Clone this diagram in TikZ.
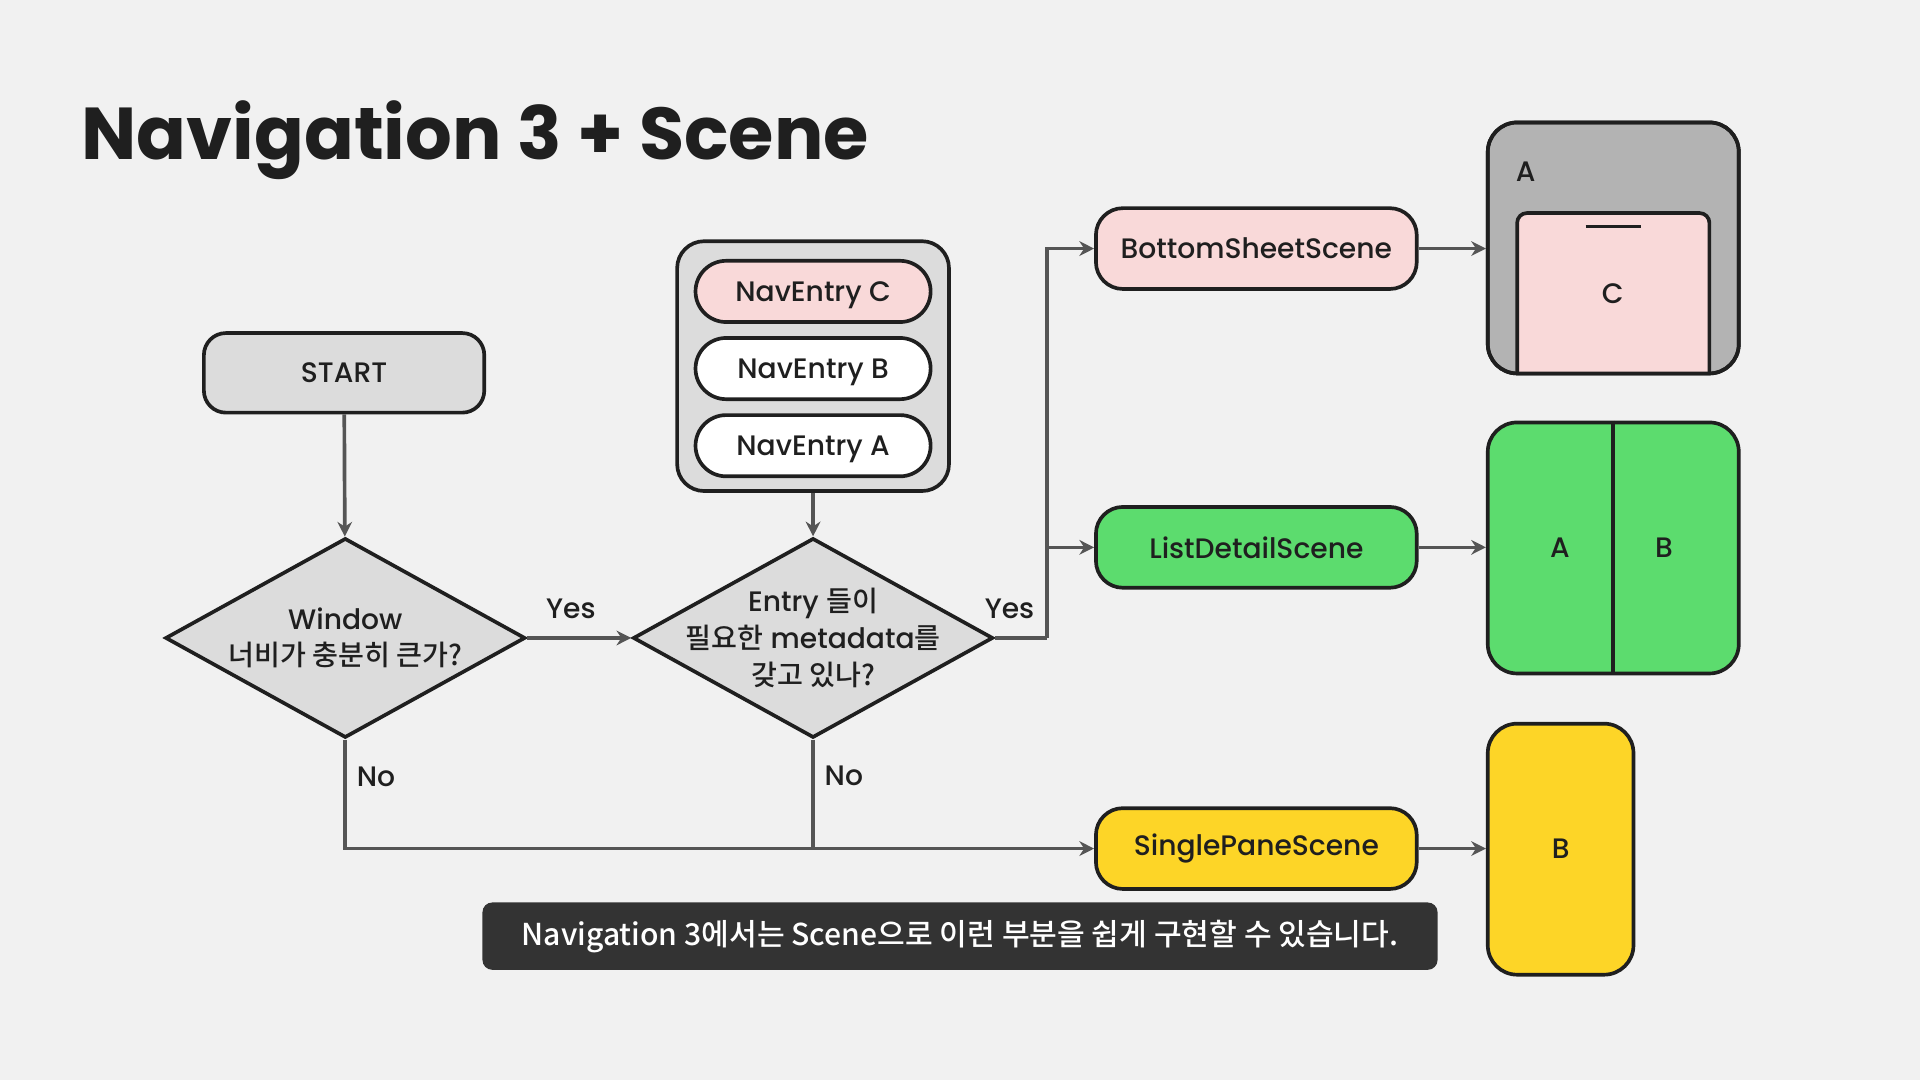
\documentclass[tikz,border=0pt]{standalone}
\usepackage{fontspec}
\setmainfont{Poppins}[UprightFont=* Medium,BoldFont=* Bold]
\newfontfamily\kr{Noto Sans CJK KR}[UprightFont=* Medium]
\usetikzlibrary{shapes.geometric,positioning,arrows.meta}
\definecolor{bg}{HTML}{F1F1F1}
\definecolor{ink}{HTML}{1F1F1F}
\definecolor{wire}{HTML}{555555}
\definecolor{boxgray}{HTML}{DCDCDC}
\definecolor{phonegray}{HTML}{B3B3B3}
\definecolor{sheetpink}{HTML}{F9D9D9}
\definecolor{listgreen}{HTML}{5CDC6E}
\definecolor{paneyellow}{HTML}{FDD527}
\definecolor{notebg}{HTML}{333333}

\begin{document}
\begin{tikzpicture}[x=1pt,y=-1pt,
   every node/.style={text=ink,font=\fontsize{23}{30}\selectfont},
   startbox/.style={draw=ink,line width=3pt,fill=boxgray,rounded corners=18pt,minimum width=229pt,minimum height=65pt},
   stackbox/.style={draw=ink,line width=3pt,fill=boxgray,rounded corners=22pt,minimum width=222pt,minimum height=204pt},
   entry/.style={draw=ink,line width=3pt,fill=white,rounded corners=25pt,minimum width=192pt,minimum height=50pt,text depth=0pt},
   decision/.style={diamond,draw=ink,line width=3pt,fill=boxgray,minimum width=294pt,minimum height=163pt,inner sep=0pt},
   scene/.style={draw=ink,line width=3pt,rounded corners=22pt,minimum width=262pt,minimum height=66pt},
   phone/.style={draw=ink,line width=3pt,rounded corners=24pt,minimum height=205pt},
   flow/.style={draw=wire,line width=3pt,-{Stealth[length=12pt,width=12pt]}},
   wireline/.style={draw=wire,line width=3pt},
   lab/.style={inner sep=2pt}]
   \fill[bg] (0,0) rectangle (1568,882);
   \useasboundingbox (0,0) rectangle (1568,882);

   \node[anchor=base west,font=\fontsize{60}{66}\bfseries] (title) at (63,130) {Navigation 3 + Scene};

   % flow chart
   \node[startbox] (start) at (281,304.5) {START};
   \node[stackbox] (stack) at (664,299) {};
   \node[entry,fill=sheetpink] (navC) at (664,238) {NavEntry C};
   \node[entry] (navB) at (664,301) {NavEntry B};
   \node[entry] (navA) at (664,364) {NavEntry A};
   \node[decision,label={[align=center]center:Window\\{\kr 너비가 충분히 큰가?}}] (window) at (282,521) {};
   \node[decision,label={[align=center]center:Entry {\kr 들이}\\{\kr 필요한} metadata{\kr 를}\\{\kr 갖고 있나?}}] (meta) at (664,521) {};

   % scenes
   \node[scene,fill=sheetpink] (bottom) at (1026,203) {BottomSheetScene};
   \node[scene,fill=listgreen] (listdetail) at (1026,447) {ListDetailScene};
   \node[scene,fill=paneyellow] (single) at (1026,693) {SinglePaneScene};

   % screens
   \node[phone,fill=phonegray,minimum width=205pt] (sheetphone) at (1317.5,202.5) {};
   \filldraw[fill=sheetpink,draw=ink,line width=3pt,rounded corners=8pt]
      (1239,305) -- (1239,174) -- (1396,174) -- (1396,305);
   \node[phone,minimum width=205pt] at (sheetphone) {};
   \draw[ink,line width=3pt] (1295,185) -- (1340,185);
   \node (sheetA) at (1246,140) {A};
   \node (sheetC) at (1317,240) {C};
   \node[phone,fill=listgreen,minimum width=205pt] (listphone) at (1317.5,447.5) {};
   \draw[ink,line width=3pt] (listphone.north) -- (listphone.south);
   \node (listA) at (1274,447) {A};
   \node (listB) at (1359,447) {B};
   \node[phone,fill=paneyellow,minimum width=119pt] (panephone) at (1274.5,693.5) {B};

   \node[fill=notebg,rounded corners=8pt,minimum width=780pt,minimum height=55pt,text=white,font=\kr\fontsize{24.6}{28}\selectfont] (note) at (784,764.5) {Navigation 3에서는 Scene으로 이런 부분을 쉽게 구현할 수 있습니다.};

   % connectors
   \coordinate (split) at (855,521);
   \draw[flow] (start) -- (window);
   \draw[flow] (stack) -- (meta);
   \draw[flow] (window.east) -- node[lab,above=12pt,pos=0.42] {Yes} (meta.west);
   \draw[wireline] (meta.east) -- node[lab,above=12pt,pos=0.28] {Yes} (split);
   \draw[flow] (split) |- (bottom.west);
   \draw[flow] (split) |- (listdetail.west);
   \draw[flow] (window.south) |- node[lab,right=6pt,pos=0.17] {No} (single.west);
   \draw[wireline] (meta.south) -- node[lab,right=6pt,pos=0.33] {No} (meta.south |- single.west);
   \draw[flow] (bottom.east) -- (bottom.east -| sheetphone.west);
   \draw[flow] (listdetail.east) -- (listdetail.east -| listphone.west);
   \draw[flow] (single.east) -- (single.east -| panephone.west);
\end{tikzpicture}
\end{document}
